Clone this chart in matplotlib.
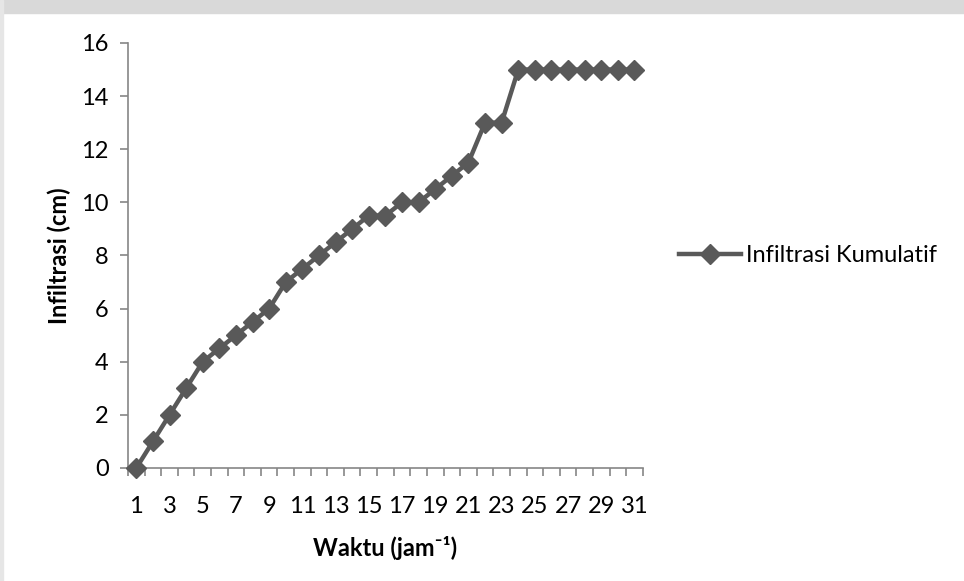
import matplotlib.pyplot as plt
from matplotlib.patches import Rectangle
from matplotlib.ticker import MultipleLocator

# waktu pengamatan (jam) dan infiltrasi kumulatif (cm)
waktu = list(range(1, 32))
infiltrasi = [0, 1, 2, 3, 4, 4.5, 5, 5.5, 6, 7, 7.5, 8, 8.5, 9, 9.5, 9.5,
              10, 10, 10.5, 11, 11.5, 13, 13, 15, 15, 15, 15, 15, 15, 15, 15]
label_x = [str(t) for t in range(1, 32, 2)]

plt.rcParams['font.family'] = ['Lato', 'DejaVu Sans']
fs = 17

fig = plt.figure(figsize=(9.64, 5.81), dpi=100)
# latar abu-abu di tepi halaman
fig.patches.append(Rectangle((0, 1 - 13 / 581), 1, 13 / 581, transform=fig.transFigure,
                             color='#d9d9d9', zorder=0))
fig.patches.append(Rectangle((0, 0), 3 / 964, 1, transform=fig.transFigure,
                             color='#e6e6e6', zorder=0))

ax = fig.add_axes([0.1328, 0.1945, 0.534, 0.7315])
garis = '#595959'
ax.plot(waktu, infiltrasi, color=garis, linewidth=3.2, marker='D', markersize=10.5,
        label='Infiltrasi Kumulatif', clip_on=False, zorder=3)

ax.set_xlim(0.5, 31.5)
ax.set_ylim(0, 16)
ax.yaxis.set_major_locator(MultipleLocator(2))
ax.set_xticks(range(1, 32, 2))
ax.set_xticklabels(label_x)
ax.set_xticks([i + 0.5 for i in range(0, 32)], minor=True)

for s in ['top', 'right']:
    ax.spines[s].set_visible(False)
for s in ['left', 'bottom']:
    ax.spines[s].set_color('#868686')
    ax.spines[s].set_linewidth(1.2)

ax.tick_params(axis='x', which='major', length=0, pad=20, labelsize=fs)
ax.tick_params(axis='x', which='minor', length=6, color='#868686', width=1.2)
ax.tick_params(axis='y', length=6, color='#868686', width=1.2, pad=8, labelsize=fs)

ax.set_xlabel('Waktu (jam⁻¹)', fontsize=fs, fontweight='bold', labelpad=14)
ax.set_ylabel('Infiltrasi (cm)', fontsize=fs, fontweight='bold', labelpad=7)

ax.legend(loc='center left', bbox_to_anchor=(1.03, 0.5), frameon=False, fontsize=fs,
          handlelength=2.6, handletextpad=0.2)

fig.savefig('out.png', dpi=100, facecolor='white')
